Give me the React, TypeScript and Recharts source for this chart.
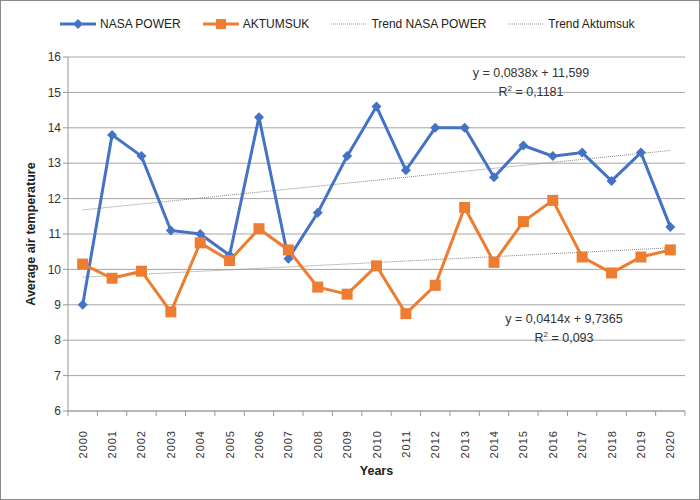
import React from "react";
import { LineChart, Line, XAxis, YAxis, CartesianGrid } from "recharts";

const years = ["2000","2001","2002","2003","2004","2005","2006","2007","2008","2009","2010","2011","2012","2013","2014","2015","2016","2017","2018","2019","2020"];
const nasaPower = [9.0,13.8,13.2,11.1,11.0,10.4,14.3,10.3,11.6,13.2,14.6,12.8,14.0,14.0,12.6,13.5,13.2,13.3,12.5,13.3,11.2];
const aktumsuk = [10.15,9.75,9.95,8.8,10.75,10.25,11.15,10.55,9.5,9.3,10.1,8.75,9.55,11.75,10.2,11.35,11.95,10.35,9.9,10.35,10.55];
// trend line endpoints (first and last year)
const trendNasaEnds = [11.68, 13.36];
const trendAktEnds = [9.78, 10.61];
const yTicks = [6,7,8,9,10,11,12,13,14,15,16];

const data = years.map((y, i) => ({
  year: y,
  nasa: nasaPower[i],
  akt: aktumsuk[i],
  tNasa: i === 0 ? trendNasaEnds[0] : i === years.length - 1 ? trendNasaEnds[1] : null,
  tAkt: i === 0 ? trendAktEnds[0] : i === years.length - 1 ? trendAktEnds[1] : null,
}));

const BLUE = "#4472C4";
const ORANGE = "#ED7D31";
const FONT = "'Liberation Sans', Arial, sans-serif";
const PLOT_LEFT = 67;
const PLOT_RIGHT = 684;
const BAND = (PLOT_RIGHT - PLOT_LEFT) / years.length;

const Diamond = (props: any) => {
  const { cx, cy } = props;
  if (cx == null || cy == null) return null;
  const s = 5;
  return <path d={`M${cx},${cy - s}L${cx + s},${cy}L${cx},${cy + s}L${cx - s},${cy}Z`} fill={BLUE} />;
};
const Square = (props: any) => {
  const { cx, cy } = props;
  if (cx == null || cy == null) return null;
  const s = 5.5;
  return <rect x={cx - s} y={cy - s} width={2 * s} height={2 * s} fill={ORANGE} />;
};

const XTick = (props: any) => {
  const { x, y, payload, index } = props;
  const lx = x - BAND / 2;
  return (
    <g>
      <line x1={lx} y1={y - 8} x2={lx} y2={y - 3} stroke="#999" />
      {index === years.length - 1 && <line x1={x + BAND / 2} y1={y - 8} x2={x + BAND / 2} y2={y - 3} stroke="#999" />}
      <text x={0} y={0} transform={`translate(${x + 4},${y + 11}) rotate(-90)`} textAnchor="end" fontSize={11} fill="#333" fontFamily={FONT} letterSpacing={1}>
        {payload.value}
      </text>
    </g>
  );
};

const LegendItem = ({ kind, label, width }: { kind: string; label: string; width: number }) => (
  <div style={{ display: "flex", alignItems: "center", marginRight: 22 }}>
    <svg width={width} height={12} style={{ marginRight: 4 }}>
      {kind === "nasa" && (<>
        <line x1={0} y1={6} x2={width} y2={6} stroke={BLUE} strokeWidth={3} />
        <path d={`M${width / 2},1L${width / 2 + 5},6L${width / 2},11L${width / 2 - 5},6Z`} fill={BLUE} />
      </>)}
      {kind === "akt" && (<>
        <line x1={0} y1={6} x2={width} y2={6} stroke={ORANGE} strokeWidth={3} />
        <rect x={width / 2 - 5} y={1} width={10} height={10} fill={ORANGE} />
      </>)}
      {kind === "trend" && <line x1={0} y1={6} x2={width} y2={6} stroke="#999" strokeWidth={1} strokeDasharray="1 1" />}
    </svg>
    <span>{label}</span>
  </div>
);

const Sup = () => <span style={{ fontSize: 8, position: "relative", top: -5 }}>2</span>;

export default function App() {
  return (
    <div style={{ position: "absolute", left: 0, top: 0, width: 700, height: 500, background: "#fff", border: "1px solid #8a8a8a", boxSizing: "border-box", fontFamily: FONT }}>
      <div style={{ position: "absolute", left: 59, top: 16, display: "flex", fontSize: 12, color: "#222" }}>
        <LegendItem kind="nasa" label="NASA POWER" width={36} />
        <LegendItem kind="akt" label="AKTUMSUK" width={36} />
        <LegendItem kind="trend" label="Trend NASA POWER" width={36} />
        <LegendItem kind="trend" label="Trend Aktumsuk" width={36} />
      </div>
      <div style={{ position: "absolute", left: 0, top: 0 }}>
        <LineChart width={698} height={498} data={data} margin={{ top: 56, right: 14, bottom: 0, left: 0 }}>
          <CartesianGrid vertical={false} stroke="#a6a6a6" strokeWidth={1} />
          <XAxis dataKey="year" interval={0} padding={{ left: BAND / 2, right: BAND / 2 }} height={88} axisLine={{ stroke: "#999" }} tickLine={false} tick={<XTick />}
            label={{ value: "Years", position: "insideBottom", offset: 24, style: { fontWeight: "bold", fontSize: 12.5, fill: "#222", fontFamily: FONT } }} />
          <YAxis type="number" domain={[6, 16]} ticks={yTicks} interval={0} width={67} axisLine={{ stroke: "#999" }} tickLine={{ stroke: "#999" }} tickSize={5}
            tick={{ fontSize: 12, fill: "#333", fontFamily: FONT }}
            label={{ value: "Average air temperature", angle: -90, position: "insideLeft", offset: 30, style: { textAnchor: "middle", fontWeight: "bold", fontSize: 12.5, fill: "#222", fontFamily: FONT } }} />
          <Line dataKey="tNasa" stroke="#888" strokeWidth={1} strokeDasharray="1 1" dot={false} connectNulls isAnimationActive={false} />
          <Line dataKey="tAkt" stroke="#888" strokeWidth={1} strokeDasharray="1 1" dot={false} connectNulls isAnimationActive={false} />
          <Line dataKey="nasa" stroke={BLUE} strokeWidth={3} dot={<Diamond />} activeDot={false} isAnimationActive={false} />
          <Line dataKey="akt" stroke={ORANGE} strokeWidth={3} dot={<Square />} activeDot={false} isAnimationActive={false} />
        </LineChart>
      </div>
      <div style={{ position: "absolute", left: 430, top: 63, width: 200, textAlign: "center", fontSize: 12.5, color: "#333", lineHeight: "19px" }}>
        <div>y = 0,0838x + 11,599</div>
        <div>R<Sup /> = 0,1181</div>
      </div>
      <div style={{ position: "absolute", left: 463, top: 309, width: 200, textAlign: "center", fontSize: 12.5, color: "#333", lineHeight: "19px" }}>
        <div>y = 0,0414x + 9,7365</div>
        <div>R<Sup /> = 0,093</div>
      </div>
    </div>
  );
}
